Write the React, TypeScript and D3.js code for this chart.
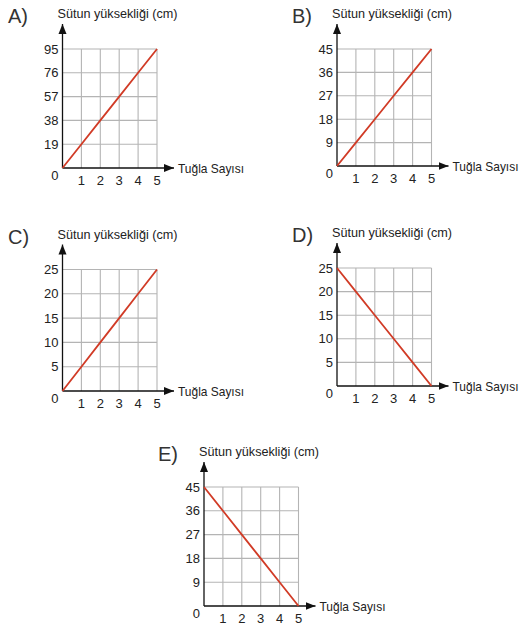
import { useEffect, useRef } from "react";
import * as d3 from "d3";

// brick counts on the x axis
const bricks = [0, 1, 2, 3, 4, 5];

// y tick labels for each option
const ticksA = [19, 38, 57, 76, 95];
const ticksB = [9, 18, 27, 36, 45];
const ticksC = [5, 10, 15, 20, 25];
const ticksD = [5, 10, 15, 20, 25];
const ticksE = [9, 18, 27, 36, 45];

// column height per brick count
const heightsA = [0, 19, 38, 57, 76, 95];
const heightsB = [0, 9, 18, 27, 36, 45];
const heightsC = [0, 5, 10, 15, 20, 25];
const heightsD = [25, 20, 15, 10, 5, 0];
const heightsE = [45, 36, 27, 18, 9, 0];

const letters = ["A)", "B)", "C)", "D)", "E)"];
const yTitle = "Sütun yüksekliği (cm)";
const xTitle = "Tuğla Sayısı";

const panels = [
  { letter: letters[0], ticks: ticksA, values: heightsA, ox: 62.5, oy: 168, top: 49, lx: 8 },
  { letter: letters[1], ticks: ticksB, values: heightsB, ox: 337, oy: 166, top: 49, lx: 292 },
  { letter: letters[2], ticks: ticksC, values: heightsC, ox: 62.5, oy: 391, top: 269.5, lx: 8 },
  { letter: letters[3], ticks: ticksD, values: heightsD, ox: 337, oy: 386, top: 268, lx: 292 },
  { letter: letters[4], ticks: ticksE, values: heightsE, ox: 204, oy: 606, top: 487, lx: 158 },
];

const W = 523;
const H = 628;
const plotW = 94.5;
const font = "'Liberation Sans', Arial, sans-serif";

export default function App() {
  const ref = useRef<SVGSVGElement>(null);

  useEffect(() => {
    const svg = d3.select(ref.current).html("");

    const defs = svg.append("defs");
    defs.append("marker")
      .attr("id", "arr")
      .attr("viewBox", "0 0 10 10")
      .attr("refX", 10).attr("refY", 5)
      .attr("markerWidth", 10).attr("markerHeight", 10)
      .attr("markerUnits", "userSpaceOnUse")
      .attr("orient", "auto")
      .append("path")
      .attr("d", "M0,1 L10,5 L0,9 Z")
      .attr("fill", "#111");

    panels.forEach(p => {
      const g = svg.append("g");
      const yMax = d3.max(p.ticks)!;

      const x = d3.scaleLinear().domain([0, 5]).range([p.ox, p.ox + plotW]);
      const y = d3.scaleLinear().domain([0, yMax]).range([p.oy, p.top]);

      // grid
      g.selectAll("line.v")
        .data(bricks.slice(1))
        .enter().append("line")
        .attr("x1", d => x(d)).attr("x2", d => x(d))
        .attr("y1", y(0)).attr("y2", y(yMax))
        .attr("stroke", "#b4b4b4").attr("stroke-width", 1.1);

      g.selectAll("line.h")
        .data(p.ticks)
        .enter().append("line")
        .attr("x1", x(0)).attr("x2", x(5))
        .attr("y1", d => y(d)).attr("y2", d => y(d))
        .attr("stroke", "#b4b4b4").attr("stroke-width", 1.1);

      // axes with arrows
      g.append("line")
        .attr("x1", x(0)).attr("x2", x(5) + 17)
        .attr("y1", y(0)).attr("y2", y(0))
        .attr("stroke", "#111").attr("stroke-width", 1.3)
        .attr("marker-end", "url(#arr)");

      g.append("line")
        .attr("x1", x(0)).attr("x2", x(0))
        .attr("y1", y(0)).attr("y2", y(yMax) - 25)
        .attr("stroke", "#111").attr("stroke-width", 1.3)
        .attr("marker-end", "url(#arr)");

      // data line
      const line = d3.line<number>()
        .x((d, i) => x(bricks[i]))
        .y(d => y(d));

      g.append("path")
        .attr("d", line(p.values))
        .attr("fill", "none")
        .attr("stroke", "#d13b26")
        .attr("stroke-width", 1.8);

      // tick labels
      g.selectAll("text.yt")
        .data(p.ticks)
        .enter().append("text")
        .attr("x", x(0) - 4).attr("y", d => y(d) + 4.5)
        .attr("text-anchor", "end")
        .attr("font-family", font).attr("font-size", "13px")
        .attr("fill", "#222")
        .text(d => d);

      g.append("text")
        .attr("x", x(0) - 4).attr("y", y(0) + 12)
        .attr("text-anchor", "end")
        .attr("font-family", font).attr("font-size", "13px")
        .attr("fill", "#222")
        .text(0);

      g.selectAll("text.xt")
        .data(bricks.slice(1))
        .enter().append("text")
        .attr("x", d => x(d)).attr("y", y(0) + 17)
        .attr("text-anchor", "middle")
        .attr("font-family", font).attr("font-size", "13px")
        .attr("fill", "#222")
        .text(d => d);

      // titles
      g.append("text")
        .attr("x", x(0) - 5).attr("y", y(yMax) - 31)
        .attr("font-family", font).attr("font-size", "13px")
        .attr("fill", "#222")
        .attr("textLength", 120).attr("lengthAdjust", "spacingAndGlyphs")
        .text(yTitle);

      g.append("text")
        .attr("x", x(5) + 21).attr("y", y(0) + 4.5)
        .attr("font-family", font).attr("font-size", "13px")
        .attr("fill", "#222")
        .attr("textLength", 66).attr("lengthAdjust", "spacingAndGlyphs")
        .text(xTitle);

      g.append("text")
        .attr("x", p.lx).attr("y", y(yMax) - 26)
        .attr("font-family", font).attr("font-size", "20px")
        .attr("fill", "#333")
        .text(p.letter);
    });
  }, []);

  return (
    <svg
      ref={ref}
      width={W}
      height={H}
      style={{ position: "absolute", left: 0, top: 0, background: "#fff" }}
    />
  );
}
